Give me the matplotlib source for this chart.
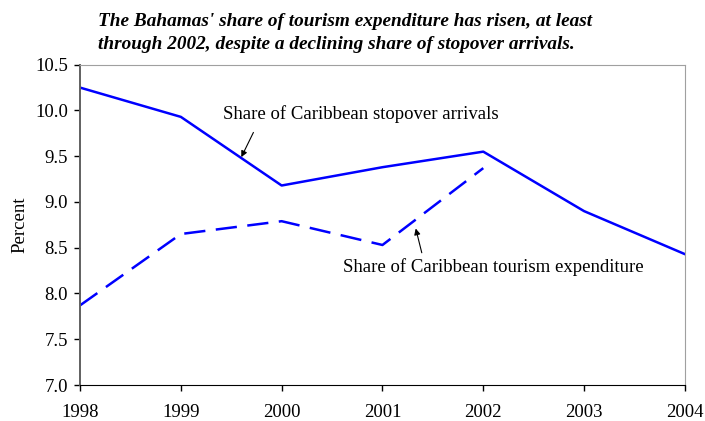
import matplotlib
matplotlib.use('Agg')
import matplotlib.pyplot as plt

###############################################################################
# Data
###############################################################################
years = [1998, 1999, 2000, 2001, 2002, 2003, 2004]
stopover = [10.25, 9.93, 9.18, 9.38, 9.55, 8.90, 8.43]
exp_years = [1998, 1999, 2000, 2001, 2002]
expenditure = [7.87, 8.65, 8.79, 8.53, 9.37]
yticks = [7.0, 7.5, 8.0, 8.5, 9.0, 9.5, 10.0, 10.5]

TITLE = ("The Bahamas' share of tourism expenditure has risen, at least\n"
         "through 2002, despite a declining share of stopover arrivals.")
BLUE = '#0000ff'
FS = 13.5

plt.rcParams['font.family'] = ['Liberation Serif', 'DejaVu Serif']

###############################################################################
# Plot
###############################################################################
fig = plt.figure(figsize=(7.05, 4.21), dpi=100)
ax = fig.add_axes([0.1135, 0.0855, 0.858, 0.7608])

ax.plot(years, stopover, color=BLUE, lw=1.8)
ax.plot(exp_years, expenditure, color=BLUE, lw=1.8, dashes=(8.5, 4.2))

ax.set_xlim(1998, 2004)
ax.set_ylim(7.0, 10.5)
ax.set_xticks(years)
ax.set_yticks(yticks)
ax.set_yticklabels(['{:.1f}'.format(v) for v in yticks])
ax.tick_params(labelsize=FS, direction='out', length=4.5, width=1,
               colors='black')
ax.tick_params(axis='x', pad=9)
ax.tick_params(axis='y', pad=4)
ax.set_ylabel('Percent', fontsize=FS, labelpad=5)

for s in ('top', 'right'):
    ax.spines[s].set_color('#a0a0a0')
ax.spines['left'].set_color('#606060')
ax.spines['left'].set_linewidth(1.4)
ax.spines['bottom'].set_color('black')

###############################################################################
# Labels with arrows
###############################################################################
arrow = dict(arrowstyle='-|>', color='black', lw=0.8,
             shrinkA=0, shrinkB=0, mutation_scale=9)

ax.text(1999.42, 9.907, 'Share of Caribbean stopover arrivals',
        fontsize=FS, ha='left', va='baseline')
ax.annotate('', xy=(1999.60, 9.49), xytext=(1999.72, 9.76),
            arrowprops=arrow)

ax.text(2000.61, 8.23, 'Share of Caribbean tourism expenditure',
        fontsize=FS, ha='left', va='baseline')
ax.annotate('', xy=(2001.33, 8.71), xytext=(2001.39, 8.445),
            arrowprops=arrow)

fig.text(0.139, 0.968, TITLE, fontsize=13.9, fontweight='bold',
         fontstyle='italic', ha='left', va='top', linespacing=1.45)

fig.savefig('out.png', dpi=100)
